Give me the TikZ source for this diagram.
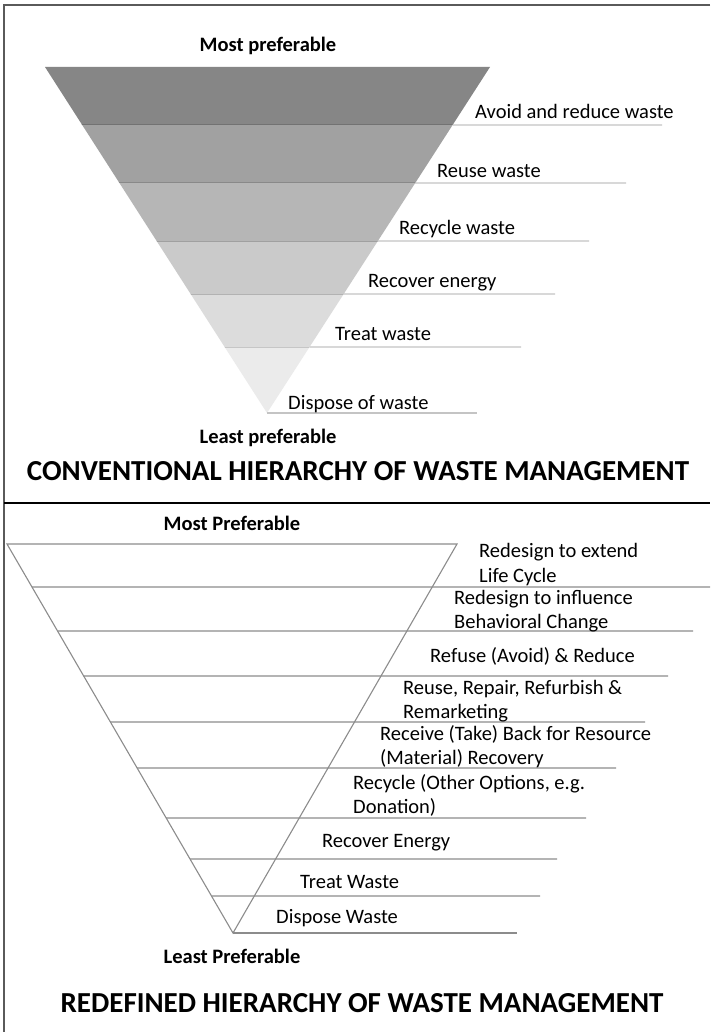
\documentclass[tikz,border=0pt]{standalone}
\usepackage{fontspec}
\setmainfont{Carlito}
\usetikzlibrary{calc}
\definecolor{bandA}{HTML}{868686}
\definecolor{bandB}{HTML}{A1A1A1}
\definecolor{bandC}{HTML}{B6B6B6}
\definecolor{bandD}{HTML}{CACACA}
\definecolor{bandE}{HTML}{DCDCDC}
\definecolor{bandF}{HTML}{EBEBEB}
\definecolor{extgray}{HTML}{C4C4C4}
\definecolor{edgegray}{HTML}{8C8C8C}
\definecolor{framegray}{HTML}{5A5A5A}
\begin{document}
\begin{tikzpicture}[x=1pt,y=-1pt,
  lbl/.style={anchor=base west,inner sep=0pt,font=\fontsize{20.5}{25}\selectfont},
  hdr/.style={anchor=base,inner sep=0pt,font=\fontsize{20.5}{25}\selectfont\bfseries},
  ttl/.style={anchor=base,inner sep=0pt,font=\fontsize{29}{34}\selectfont\bfseries},
  ext/.style={draw=extgray,line width=1.4pt},
  inner/.style={line width=1pt},
  edge/.style={draw=edgegray,line width=1.1pt}]
\useasboundingbox (0,0) rectangle (710,1032);
\fill[white] (0,0) rectangle (710,1032);
% frame
\draw[framegray,line width=1.2pt] (710,5) -- (4,5) -- (4,1032);
\draw[black,line width=2.5pt] (4,503) -- (710,503);

% ===== top panel =====
\coordinate (TL) at (45,67);
\coordinate (TR) at (490,67);
\coordinate (TT) at (267,413);
\begin{scope}
\clip (TL) -- (TR) -- (TT) -- cycle;
\fill[bandA] (0,60) rectangle (710,125);
\fill[bandB] (0,125) rectangle (710,183);
\fill[bandC] (0,183) rectangle (710,241);
\fill[bandD] (0,241) rectangle (710,294);
\fill[bandE] (0,294) rectangle (710,347);
\fill[bandF] (0,347) rectangle (710,420);
\draw[inner,bandA!85!black] (0,125) -- (710,125);
\draw[inner,bandB!85!black] (0,183) -- (710,183);
\draw[inner,bandC!88!black] (0,241) -- (710,241);
\draw[inner,bandD!88!black] (0,294) -- (710,294);
\draw[inner,bandE!90!black] (0,347) -- (710,347);
\end{scope}
\coordinate (R1) at ($(TR)!58/346!(TT)$);
\coordinate (R2) at ($(TR)!116/346!(TT)$);
\coordinate (R3) at ($(TR)!174/346!(TT)$);
\coordinate (R4) at ($(TR)!227/346!(TT)$);
\coordinate (R5) at ($(TR)!280/346!(TT)$);
\draw[ext] (R1) -- (662,125);
\draw[ext] (R2) -- (626,183);
\draw[ext] (R3) -- (589,241);
\draw[ext] (R4) -- (555,294);
\draw[ext] (R5) -- (521,347);
\draw[ext] (TT) -- (477,413);

\node[hdr] (tmost) at (268,52) {Most preferable};
\node[lbl] (t1) at (475,119) {Avoid and reduce waste};
\node[lbl] (t2) at (437,178) {Reuse waste};
\node[lbl] (t3) at (399,235) {Recycle waste};
\node[lbl] (t4) at (368,287) {Recover energy};
\node[lbl] (t5) at (335,340) {Treat waste};
\node[lbl] (t6) at (288,409) {Dispose of waste};
\node[hdr] (tleast) at (268,443) {Least preferable};
\node[ttl] (ttitle) at (358,480) {CONVENTIONAL HIERARCHY OF WASTE MANAGEMENT};

% ===== bottom panel =====
\coordinate (BL) at (7,544);
\coordinate (BR) at (457,544);
\coordinate (BT) at (233,933);
\draw[edge] (BL) -- (BT) -- (BR) -- cycle;
\coordinate (L1) at ($(BL)!43/389!(BT)$);
\coordinate (L2) at ($(BL)!87/389!(BT)$);
\coordinate (L3) at ($(BL)!132/389!(BT)$);
\coordinate (L4) at ($(BL)!178/389!(BT)$);
\coordinate (L5) at ($(BL)!224/389!(BT)$);
\coordinate (L6) at ($(BL)!274/389!(BT)$);
\coordinate (L7) at ($(BL)!315/389!(BT)$);
\coordinate (L8) at ($(BL)!352/389!(BT)$);
\draw[edge] (L1) -- (710,587);
\draw[edge] (L2) -- (693,631);
\draw[edge] (L3) -- (668,676);
\draw[edge] (L4) -- (645,722);
\draw[edge] (L5) -- (616,768);
\draw[edge] (L6) -- (586,818);
\draw[edge] (L7) -- (557,859);
\draw[edge] (L8) -- (540,896);
\draw[edge] (BT) -- (517,933);

\node[hdr] (bmost) at (232,530) {Most Preferable};
\node[lbl] (b1a) at (479,557) {Redesign to extend};
\node[lbl] (b1b) at (479,582) {Life Cycle};
\node[lbl] (b2a) at (454,604) {Redesign to influence};
\node[lbl] (b2b) at (454,628) {Behavioral Change};
\node[lbl] (b3) at (430,662) {Refuse (Avoid) \& Reduce};
\node[lbl] (b4a) at (403,694) {Reuse, Repair, Refurbish \&};
\node[lbl] (b4b) at (403,718) {Remarketing};
\node[lbl] (b5a) at (380,740) {Receive (Take) Back for Resource};
\node[lbl] (b5b) at (380,764) {(Material) Recovery};
\node[lbl] (b6a) at (353,789) {Recycle (Other Options, e.g.};
\node[lbl] (b6b) at (353,813) {Donation)};
\node[lbl] (b7) at (322,847) {Recover Energy};
\node[lbl] (b8) at (300,888) {Treat Waste};
\node[lbl] (b9) at (276,923) {Dispose Waste};
\node[hdr] (bleast) at (232,963) {Least Preferable};
\node[ttl] (btitle) at (362,1012) {REDEFINED HIERARCHY OF WASTE MANAGEMENT};
\end{tikzpicture}
\end{document}
